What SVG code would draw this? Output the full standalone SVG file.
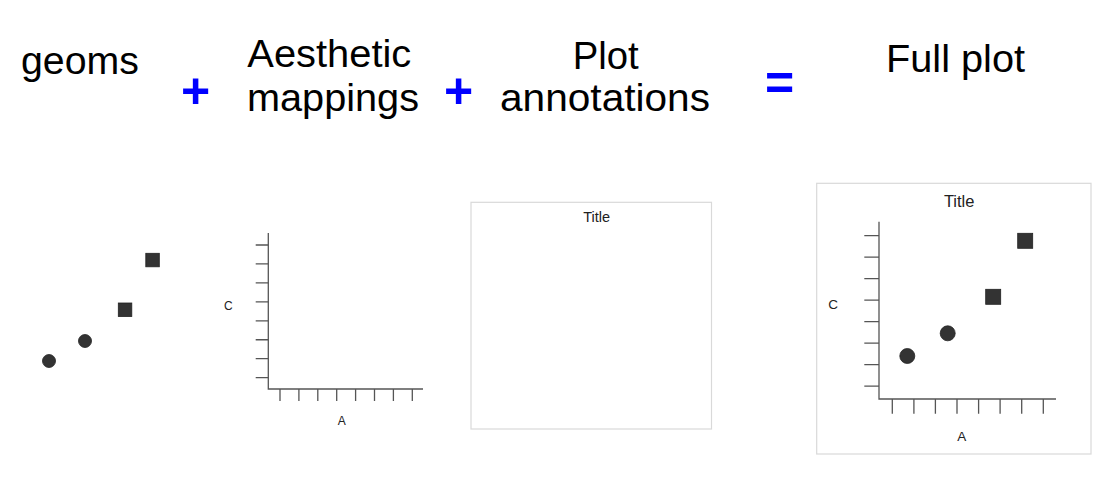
<svg xmlns="http://www.w3.org/2000/svg" width="1109" height="481" viewBox="0 0 1109 481">
<style>
.h{font-family:"Liberation Sans",Arial,sans-serif;font-size:38px;fill:#000}
.op{font-family:"Liberation Sans",Arial,sans-serif;font-size:50px;font-weight:bold;fill:#0000ff;text-anchor:middle}
.lbl{font-family:"Liberation Sans",Arial,sans-serif;fill:#222;text-anchor:middle}
.ax{stroke:#555;stroke-width:1.3;fill:none}
.frame{fill:#fff;stroke:#d9d9d9;stroke-width:1.2}
.pt{fill:#333;stroke:#222;stroke-width:0.8}
</style>
<rect width="1109" height="481" fill="#fff"/>
<g id="headings">
<text class="h" x="21" y="74" textLength="118" lengthAdjust="spacingAndGlyphs">geoms</text>
<text class="h" x="247.3" y="67" textLength="164" lengthAdjust="spacingAndGlyphs">Aesthetic</text>
<text class="h" x="247" y="111" textLength="172" lengthAdjust="spacingAndGlyphs">mappings</text>
<text class="h" x="572.7" y="69" textLength="66" lengthAdjust="spacingAndGlyphs">Plot</text>
<text class="h" x="500" y="111" textLength="210" lengthAdjust="spacingAndGlyphs">annotations</text>
<text class="h" x="886" y="72" textLength="139" lengthAdjust="spacingAndGlyphs">Full plot</text>
</g>
<g id="operators">
<text class="op" x="195.7" y="108">+</text>
<text class="op" x="458.5" y="108">+</text>
<text class="op" x="779.5" y="99.5">=</text>
</g>
<g id="geoms">
<circle class="pt" cx="49" cy="361" r="6.5"/>
<circle class="pt" cx="85" cy="341" r="6.5"/>
<rect class="pt" x="118.3" y="303" width="13.5" height="13.5"/>
<rect class="pt" x="145.8" y="253.3" width="13.5" height="13.5"/>
</g>
<g id="aesthetic-mappings">
<path class="ax" d="M268.3,233V389H423"/>
<path class="ax" d="M255.7,245H268.3M255.7,263.95H268.3M255.7,282.9H268.3M255.7,301.85H268.3M255.7,320.8H268.3M255.7,339.75H268.3M255.7,358.7H268.3M255.7,377.65H268.3"/>
<path class="ax" d="M280,389V401M298.9,389V401M317.8,389V401M336.7,389V401M355.6,389V401M374.5,389V401M393.4,389V401M412.3,389V401"/>
<text class="lbl" x="228.3" y="310" font-size="12">C</text>
<text class="lbl" x="341.7" y="425" font-size="12">A</text>
</g>
<g id="plot-annotations">
<rect class="frame" x="471" y="202.3" width="240.5" height="226.7"/>
<text class="lbl" x="596.7" y="222.3" font-size="14.5">Title</text>
</g>
<g id="full-plot">
<rect class="frame" x="816.7" y="183.3" width="274.3" height="270.7"/>
<text class="lbl" x="959.2" y="207.3" font-size="16.5">Title</text>
<path class="ax" d="M879,221.7V399H1056"/>
<path class="ax" d="M864.3,235.7H879M864.3,257.2H879M864.3,278.7H879M864.3,300.2H879M864.3,321.7H879M864.3,343.2H879M864.3,364.7H879M864.3,386.2H879"/>
<path class="ax" d="M892.3,399V413.7M913.9,399V413.7M935.4,399V413.7M957,399V413.7M978.6,399V413.7M1000.1,399V413.7M1021.7,399V413.7M1043.3,399V413.7"/>
<text class="lbl" x="833" y="309" font-size="13.5">C</text>
<text class="lbl" x="961.8" y="440.7" font-size="13.5">A</text>
<circle class="pt" cx="907.3" cy="356" r="7.5"/>
<circle class="pt" cx="947.7" cy="333.3" r="7.5"/>
<rect class="pt" x="985.7" y="289.3" width="15" height="15"/>
<rect class="pt" x="1017.7" y="233.3" width="15" height="15"/>
</g>
</svg>
